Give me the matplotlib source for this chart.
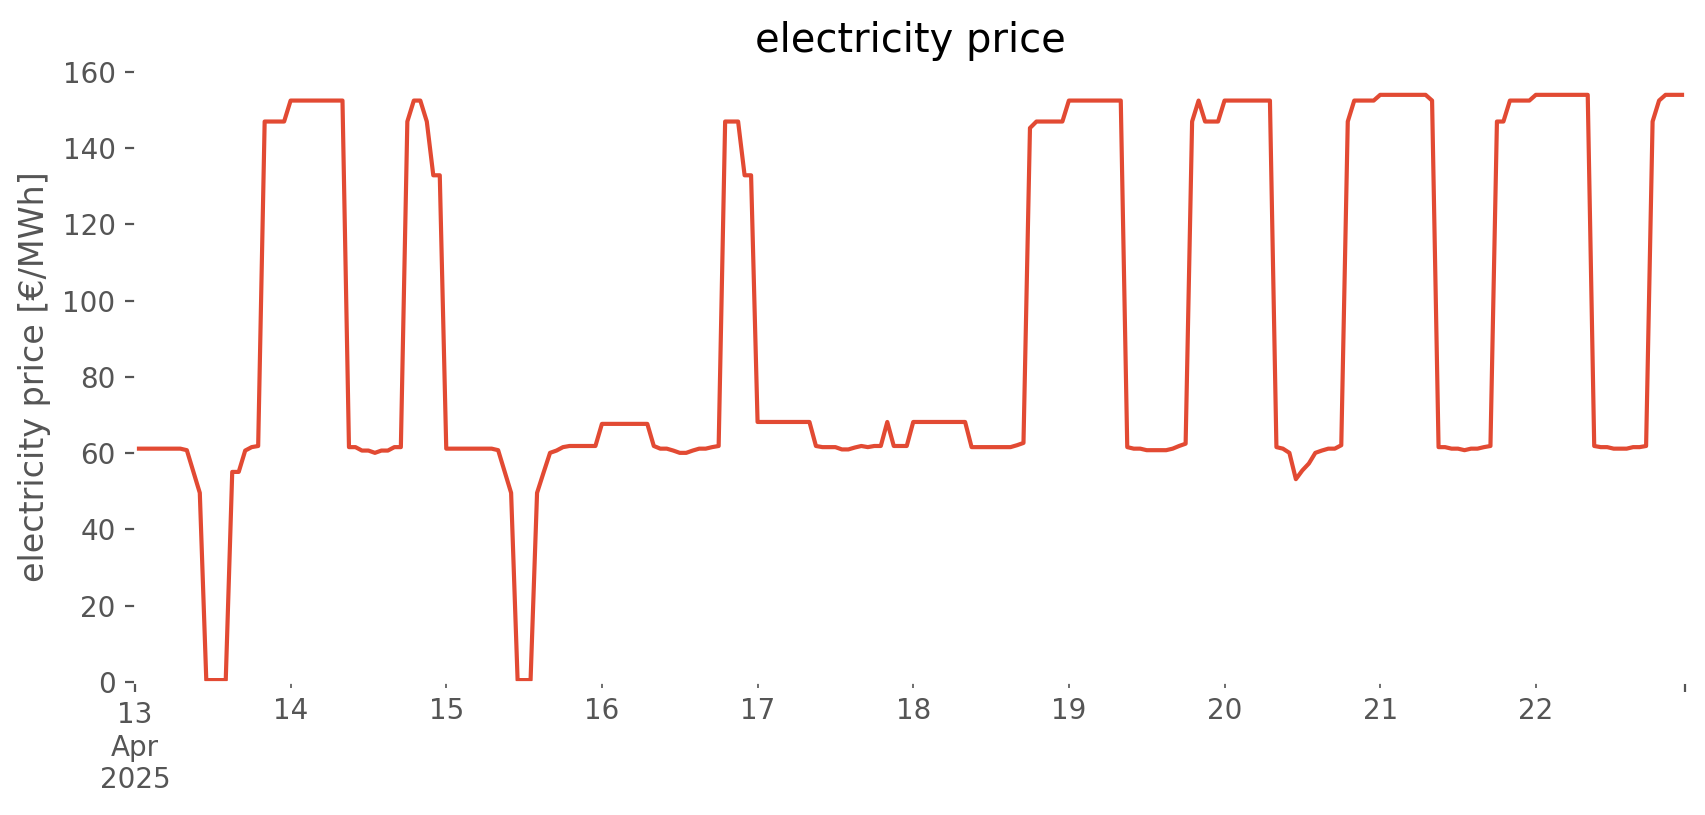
import pandas as pd
import matplotlib
matplotlib.use("Agg")
import matplotlib.pyplot as plt

plt.style.use("ggplot")

# hourly prices [€/MWh], one list per day
apr13 = [61.2, 61.2, 61.2, 61.2, 61.2, 61.2, 61.2, 61.2, 60.8, 55.2, 49.6, 0.5,
         0.5, 0.5, 0.5, 55.1, 55.1, 60.7, 61.6, 61.9, 147.0, 147.0, 147.0, 147.0]
apr14 = [152.5, 152.5, 152.5, 152.5, 152.5, 152.5, 152.5, 152.5, 152.5, 61.6, 61.6, 60.7,
         60.7, 60.1, 60.7, 60.7, 61.6, 61.6, 147.0, 152.5, 152.5, 147.0, 132.9, 132.9]
apr15 = [61.2, 61.2, 61.2, 61.2, 61.2, 61.2, 61.2, 61.2, 60.8, 55.2, 49.6, 0.5,
         0.5, 0.5, 49.6, 54.9, 60.1, 60.7, 61.6, 61.9, 61.9, 61.9, 61.9, 61.9]
apr16 = [67.7, 67.7, 67.7, 67.7, 67.7, 67.7, 67.7, 67.7, 61.9, 61.2, 61.2, 60.7,
         60.1, 60.1, 60.7, 61.2, 61.2, 61.6, 61.9, 147.0, 147.0, 147.0, 132.9, 132.9]
apr17 = [68.2, 68.2, 68.2, 68.2, 68.2, 68.2, 68.2, 68.2, 68.2, 61.9, 61.6, 61.6,
         61.6, 61.0, 61.0, 61.5, 61.9, 61.6, 61.9, 61.9, 68.2, 61.9, 61.9, 61.9]
apr18 = [68.2, 68.2, 68.2, 68.2, 68.2, 68.2, 68.2, 68.2, 68.2, 61.6, 61.6, 61.6,
         61.6, 61.6, 61.6, 61.6, 62.1, 62.7, 145.3, 147.0, 147.0, 147.0, 147.0, 147.0]
apr19 = [152.5, 152.5, 152.5, 152.5, 152.5, 152.5, 152.5, 152.5, 152.5, 61.6, 61.2, 61.2,
         60.8, 60.8, 60.8, 60.8, 61.2, 61.9, 62.5, 147.0, 152.5, 147.0, 147.0, 147.0]
apr20 = [152.5, 152.5, 152.5, 152.5, 152.5, 152.5, 152.5, 152.5, 61.6, 61.2, 60.1, 53.2,
         55.5, 57.3, 60.1, 60.7, 61.2, 61.2, 62.1, 147.0, 152.5, 152.5, 152.5, 152.5]
apr21 = [154.0, 154.0, 154.0, 154.0, 154.0, 154.0, 154.0, 154.0, 152.5, 61.6, 61.6, 61.2,
         61.2, 60.8, 61.2, 61.2, 61.6, 61.9, 147.0, 147.0, 152.5, 152.5, 152.5, 152.5]
apr22 = [154.0, 154.0, 154.0, 154.0, 154.0, 154.0, 154.0, 154.0, 154.0, 61.9, 61.6, 61.6,
         61.2, 61.2, 61.2, 61.6, 61.6, 61.9, 147.0, 152.5, 154.0, 154.0, 154.0, 154.0]

prices = apr13 + apr14 + apr15 + apr16 + apr17 + apr18 + apr19 + apr20 + apr21 + apr22
idx = pd.date_range("2025-04-13 00:00", periods=len(prices), freq="h")
s = pd.Series(prices, index=idx, name="electricity price")

fig = plt.figure(figsize=(8.53, 4.075), dpi=200)
ax = fig.add_axes([0.0791, 0.1632, 0.9086, 0.7485])
s.plot(ax=ax)
ax.set_facecolor("white")
ax.grid(False)
ax.set_ylim(0, 160)
ax.set_title("electricity price", pad=7.2)
ax.set_ylabel("electricity price [€/MWh]")
ax.set_xlabel("")

fig.savefig("out.png", dpi=200)
